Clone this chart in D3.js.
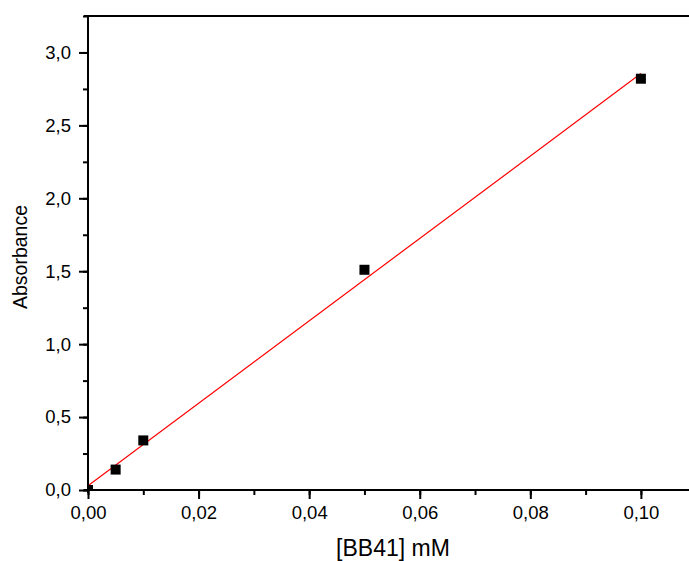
<html>
<head>
<script src="https://d3js.org/d3.v7.min.js"></script>
<style>
  body { margin: 0; background: #fff; }
  text { font-family: "Liberation Sans", Arial, sans-serif; fill: #000; }
</style>
</head>
<body>
<div id="chart"></div>
<script>
// data
var conc = [0, 0.005, 0.01, 0.05, 0.1];          // [BB41] mM
var absorb = [0, 0.14, 0.34, 1.51, 2.82];        // Absorbance
var xMajor = [0, 0.02, 0.04, 0.06, 0.08, 0.10];
var yMajor = [0, 0.5, 1.0, 1.5, 2.0, 2.5, 3.0];

var W = 689, H = 561;
var padL = 88, padB = 490, padT = 16;

var svg = d3.select("#chart").append("svg")
  .attr("width", W).attr("height", H);

var x = d3.scaleLinear().domain([0, 0.1087]).range([padL, W]);
var y = d3.scaleLinear().domain([0, 3.25]).range([padB, padT]);

var loc = d3.formatLocale({decimal: ",", thousands: ".", grouping: [3], currency: ["", ""]});

// clip for points
svg.append("clipPath").attr("id", "clip")
  .append("rect").attr("x", padL).attr("y", padT)
  .attr("width", W - padL).attr("height", padB - padT);

// linear fit (least squares)
var mx = d3.mean(conc), my = d3.mean(absorb);
var sxy = d3.sum(conc, function(d, i) { return (d - mx) * (absorb[i] - my); });
var sxx = d3.sum(conc, function(d) { return (d - mx) * (d - mx); });
var slope = sxy / sxx, icpt = my - slope * mx;

svg.append("line")
  .attr("x1", x(0)).attr("y1", y(icpt))
  .attr("x2", x(0.1)).attr("y2", y(icpt + slope * 0.1))
  .attr("stroke", "#ff0000").attr("stroke-width", 1.2);

svg.append("g").attr("clip-path", "url(#clip)")
  .selectAll("rect").data(conc).enter().append("rect")
  .attr("x", function(d) { return x(d) - 5; })
  .attr("y", function(d, i) { return y(absorb[i]) - 5; })
  .attr("width", 10).attr("height", 10)
  .attr("fill", "#000");

// minor + major ticks
var gx = svg.append("g").attr("transform", "translate(0," + padB + ")");
gx.append("g").call(d3.axisBottom(x).tickValues(d3.range(0, 0.105, 0.01)).tickSize(5).tickFormat("").tickSizeOuter(0));
gx.append("g").call(d3.axisBottom(x).tickValues(xMajor).tickSize(9).tickPadding(7)
  .tickFormat(loc.format(".2f")).tickSizeOuter(0));

var gy = svg.append("g").attr("transform", "translate(" + padL + ",0)");
gy.append("g").call(d3.axisLeft(y).tickValues(d3.range(0, 3.3, 0.25)).tickSize(5).tickFormat("").tickSizeOuter(0));
gy.append("g").call(d3.axisLeft(y).tickValues(yMajor).tickSize(9).tickPadding(8)
  .tickFormat(loc.format(".1f")).tickSizeOuter(0));

svg.selectAll(".domain").remove();
svg.selectAll(".tick line").attr("stroke", "#000").attr("stroke-width", 2);
svg.selectAll(".tick text").attr("font-size", 18.5).attr("font-family", "Liberation Sans, Arial, sans-serif");

// axis lines
svg.append("line").attr("x1", padL - 4).attr("x2", W).attr("y1", padB).attr("y2", padB)
  .attr("stroke", "#000").attr("stroke-width", 2);
svg.append("line").attr("x1", padL - 4).attr("x2", W).attr("y1", padT).attr("y2", padT)
  .attr("stroke", "#000").attr("stroke-width", 2);
svg.append("line").attr("x1", padL).attr("x2", padL).attr("y1", padT).attr("y2", padB + 3)
  .attr("stroke", "#000").attr("stroke-width", 2);

// axis titles
svg.append("text").attr("x", 393).attr("y", 556)
  .attr("text-anchor", "middle").attr("font-size", 23).text("[BB41] mM");
svg.append("text").attr("transform", "translate(27,257) rotate(-90)")
  .attr("text-anchor", "middle").attr("font-size", 19.5).text("Absorbance");
</script>
</body>
</html>
